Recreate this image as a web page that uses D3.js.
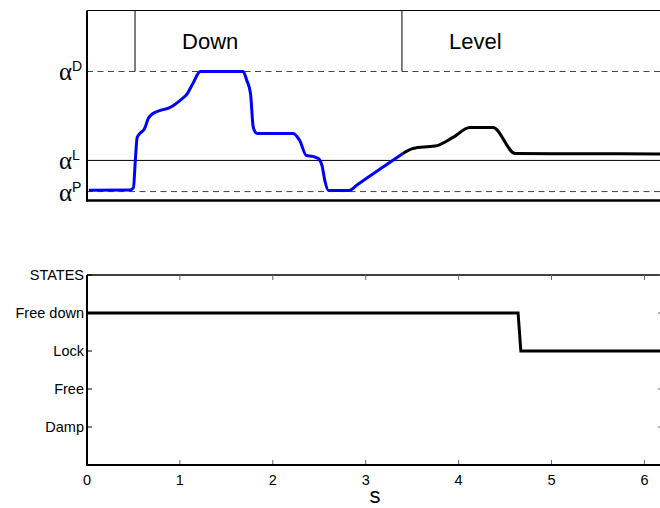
<!DOCTYPE html>
<html>
<head>
<meta charset="utf-8">
<script src="https://cdn.jsdelivr.net/npm/d3@7"></script>
<style>
  body { margin: 0; background: #fff; }
  svg { display: block; font-family: "Liberation Sans", Arial, sans-serif; }
</style>
</head>
<body>
<script>
// angle trace (arbitrary units, 0..1) vs time in s
const downTime = [0.02, 0.46, 0.50, 0.52, 0.54, 0.57, 0.62, 0.66, 0.71, 0.79, 0.89, 1.00, 1.08, 1.14, 1.22,
  1.68, 1.72, 1.76, 1.79, 1.83, 2.22, 2.26, 2.29, 2.36, 2.43, 2.49, 2.53, 2.56, 2.60, 2.82, 2.91, 3.10, 3.40];
const downAngle = [0.054, 0.055, 0.068, 0.21, 0.332, 0.353, 0.379, 0.432, 0.458, 0.474, 0.489, 0.526, 0.563, 0.616, 0.679,
  0.679, 0.632, 0.563, 0.384, 0.353, 0.353, 0.337, 0.316, 0.237, 0.232, 0.221, 0.184, 0.105, 0.053, 0.053, 0.083, 0.147, 0.247];
const levelTime = [3.40, 3.51, 3.69, 3.77, 3.94, 4.12, 4.37, 4.61, 5.20, 6.20];
const levelAngle = [0.247, 0.274, 0.284, 0.289, 0.332, 0.384, 0.384, 0.247, 0.246, 0.245];

// threshold angles
const alphaNames = ["D", "L", "P"];
const alphaValues = [0.679, 0.211, 0.047];
const alphaDashed = [true, false, true];

// phases
const phaseNames = ["Down", "Level"];
const phaseStart = [0.517, 3.39];

// state machine
const stateLabels = ["", "Damp", "Free", "Lock", "Free down", "STATES"];
const stateTime = [0, 4.64, 4.67, 6.2];
const stateValue = [4, 4, 3, 3];

const xTicks = [0, 1, 2, 3, 4, 5, 6];

const W = 660, H = 508;
const svg = d3.select("body").append("svg").attr("width", W).attr("height", H);

const x = d3.scaleLinear().domain([0, 6.2]).range([87, 663]);
const yTop = d3.scaleLinear().domain([0, 1]).range([200.5, 10.5]);
const yBot = d3.scaleLinear().domain([0, 5]).range([465, 275]);

// ---------- top panel ----------
const topPanel = svg.append("g");

topPanel.append("line")
  .attr("x1", x(0)).attr("x2", x(6.2))
  .attr("y1", yTop(1)).attr("y2", yTop(1))
  .attr("stroke", "#000").attr("stroke-width", 1);

topPanel.selectAll(".alpha")
  .data(alphaValues)
  .enter().append("line")
    .attr("x1", x(0)).attr("x2", x(6.2))
    .attr("y1", d => yTop(d)).attr("y2", d => yTop(d))
    .attr("stroke", (d, i) => alphaDashed[i] ? "#444" : "#000")
    .attr("stroke-width", 1)
    .attr("stroke-dasharray", (d, i) => alphaDashed[i] ? "6,4.5" : null);

topPanel.selectAll(".phase")
  .data(phaseStart)
  .enter().append("line")
    .attr("x1", d => x(d)).attr("x2", d => x(d))
    .attr("y1", yTop(1)).attr("y2", yTop(alphaValues[0]))
    .attr("stroke", "#000").attr("stroke-width", 1);

topPanel.selectAll(".phaseLabel")
  .data(phaseNames)
  .enter().append("text")
    .attr("x", (d, i) => x(phaseStart[i]) + 47)
    .attr("y", yTop(0.8))
    .attr("font-size", 22)
    .text(d => d);

const line = d3.line().x(d => x(d[0])).y(d => yTop(d[1])).curve(d3.curveMonotoneX);

topPanel.append("path")
  .datum(d3.zip(downTime, downAngle))
  .attr("d", line)
  .attr("fill", "none").attr("stroke", "#0000ff").attr("stroke-width", 3)
  .attr("stroke-linejoin", "round");

topPanel.append("path")
  .datum(d3.zip(levelTime, levelAngle))
  .attr("d", line)
  .attr("fill", "none").attr("stroke", "#000").attr("stroke-width", 3)
  .attr("stroke-linejoin", "round");

// alpha labels
const al = topPanel.selectAll(".alabel")
  .data(alphaValues)
  .enter().append("text")
    .attr("x", 59)
    .attr("y", d => yTop(d) + 9);
al.append("tspan")
  .attr("font-family", "Liberation Serif, serif")
  .attr("font-size", 25)
  .text("α");
al.append("tspan")
  .attr("font-size", 14)
  .attr("dy", -9)
  .text((d, i) => alphaNames[i]);

topPanel.append("line")
  .attr("x1", x(0)).attr("x2", x(0))
  .attr("y1", yTop(1)).attr("y2", yTop(0) + 1)
  .attr("stroke", "#000").attr("stroke-width", 2);
topPanel.append("line")
  .attr("x1", x(0) - 1).attr("x2", x(6.2))
  .attr("y1", yTop(0)).attr("y2", yTop(0))
  .attr("stroke", "#000").attr("stroke-width", 2.5);

// ---------- bottom panel ----------
const bot = svg.append("g");

bot.append("line")
  .attr("x1", x(0)).attr("x2", x(6.2))
  .attr("y1", yBot(5)).attr("y2", yBot(5))
  .attr("stroke", "#000").attr("stroke-width", 1.5);

// inward ticks on x (bottom and top)
bot.selectAll(".xtb")
  .data(xTicks)
  .enter().append("line")
    .attr("x1", d => x(d)).attr("x2", d => x(d))
    .attr("y1", yBot(0)).attr("y2", yBot(0) - 5)
    .attr("stroke", "#666").attr("stroke-width", 1);
bot.selectAll(".xtt")
  .data(xTicks)
  .enter().append("line")
    .attr("x1", d => x(d)).attr("x2", d => x(d))
    .attr("y1", yBot(5)).attr("y2", yBot(5) + 5)
    .attr("stroke", "#666").attr("stroke-width", 1);

const stateIdx = d3.range(1, stateLabels.length);
bot.selectAll(".ytl")
  .data(stateIdx)
  .enter().append("line")
    .attr("x1", x(0)).attr("x2", x(0) + 5)
    .attr("y1", d => yBot(d)).attr("y2", d => yBot(d))
    .attr("stroke", "#000").attr("stroke-width", 1);
bot.selectAll(".ytr")
  .data(stateIdx)
  .enter().append("line")
    .attr("x1", x(6.2)).attr("x2", x(6.2) - 5)
    .attr("y1", d => yBot(d)).attr("y2", d => yBot(d))
    .attr("stroke", "#666").attr("stroke-width", 1);

bot.selectAll(".ylab")
  .data(stateIdx)
  .enter().append("text")
    .attr("x", x(0) - 3)
    .attr("y", d => yBot(d) + 5)
    .attr("text-anchor", "end")
    .attr("font-size", 14.5)
    .text(d => stateLabels[d]);

bot.selectAll(".xlab")
  .data(xTicks)
  .enter().append("text")
    .attr("x", d => x(d))
    .attr("y", yBot(0) + 20)
    .attr("text-anchor", "middle")
    .attr("font-size", 14.5)
    .text(d => d);

bot.append("text")
  .attr("x", x(3.1))
  .attr("y", 503)
  .attr("text-anchor", "middle")
  .attr("font-size", 22)
  .text("s");

bot.append("path")
  .datum(d3.zip(stateTime, stateValue))
  .attr("d", d3.line().x(d => x(d[0])).y(d => yBot(d[1])))
  .attr("fill", "none").attr("stroke", "#000").attr("stroke-width", 3);

bot.append("line")
  .attr("x1", x(0)).attr("x2", x(0))
  .attr("y1", yBot(5)).attr("y2", yBot(0) + 1)
  .attr("stroke", "#000").attr("stroke-width", 2);
bot.append("line")
  .attr("x1", x(0) - 1).attr("x2", x(6.2))
  .attr("y1", yBot(0)).attr("y2", yBot(0))
  .attr("stroke", "#000").attr("stroke-width", 2);
</script>
</body>
</html>
